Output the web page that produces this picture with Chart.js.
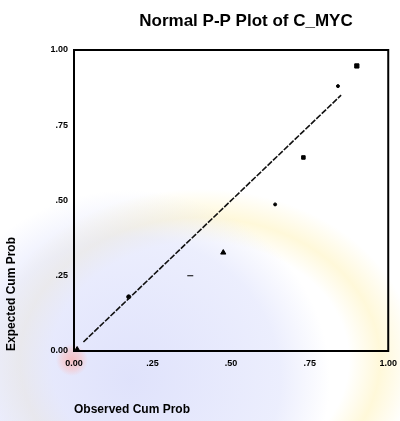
<!DOCTYPE html>
<html><head><meta charset="utf-8">
<script src="https://cdn.jsdelivr.net/npm/chart.js@4"></script>
<style>
html,body{margin:0;padding:0;background:#fff;}
#wrap{width:400px;height:421px;position:relative;
background:
 radial-gradient(circle 16px at 72px 360px, rgba(250,180,180,0.8) 0%, rgba(250,190,190,0.5) 60%, rgba(255,255,255,0) 100%),
 radial-gradient(ellipse 200px 190px at 130px 380px, rgba(210,214,250,0.7) 0%, rgba(220,224,252,0.55) 75%, rgba(255,255,255,0) 100%),
 radial-gradient(ellipse 240px 190px at 200px 360px, rgba(255,255,255,0) 62%, rgba(255,246,205,0.75) 75%, rgba(255,255,255,0) 90%);
}
canvas{position:absolute;left:0;top:0;}
</style></head>
<body><div id="wrap"><canvas id="c" width="400" height="421"></canvas></div>
<script>
const titleText = "Normal P-P Plot of C_MYC";
const xTitle = "Observed Cum Prob";
const yTitle = "Expected Cum Prob";
const tickValues = [0, 0.25, 0.5, 0.75, 1];
const tickLabels = ["0.00", ".25", ".50", ".75", "1.00"];
const observed = [0.01, 0.174, 0.37, 0.475, 0.64, 0.73, 0.84, 0.90];
const expected = [0.005, 0.18, 0.25, 0.327, 0.487, 0.643, 0.88, 0.947];
const refX = [0.03, 0.85];
const refY = [0.03, 0.85];

const pts = observed.map((x, i) => ({x: x, y: expected[i]}));
const refPts = refX.map((x, i) => ({x: x, y: refY[i]}));
const styles = ['triangle','circle','line','triangle','circle','rect','circle','rect'];
const radii = [3, 2, 3, 3, 1.5, 2.5, 1.5, 3];

const frame = {
  id: 'frame',
  afterDatasetsDraw(chart) {
    const a = chart.chartArea, ctx = chart.ctx;
    ctx.save();
    ctx.strokeStyle = '#000';
    ctx.lineWidth = 2;
    ctx.strokeRect(a.left, a.top, a.right - a.left, a.bottom - a.top);
    ctx.restore();
  }
};

const topTitle = {
  id: 'topTitle',
  afterDraw(chart) {
    const ctx = chart.ctx;
    ctx.save();
    ctx.fillStyle = '#000';
    ctx.font = 'bold 17px "Liberation Sans", Arial, sans-serif';
    ctx.textAlign = 'center';
    ctx.textBaseline = 'middle';
    ctx.fillText(titleText, 246, 21);
    ctx.restore();
  }
};

const fmt = v => { const i = tickValues.findIndex(t => Math.abs(t - v) < 1e-9); return i >= 0 ? tickLabels[i] : ''; };
const tickFont = {family: 'Liberation Sans, Arial, sans-serif', size: 9, weight: 'bold'};
const axTitleFont = {family: 'Liberation Sans, Arial, sans-serif', size: 12, weight: 'bold'};

new Chart(document.getElementById('c'), {
  type: 'scatter',
  data: {
    datasets: [
      {
        label: 'ref', type: 'line', data: refPts,
        borderColor: '#111', borderWidth: 1.6, borderDash: [6, 1.5],
        pointRadius: 0, fill: false
      },
      {
        label: 'obs', data: pts,
        backgroundColor: '#000', borderColor: '#000', borderWidth: 1,
        pointStyle: styles, pointRadius: radii
      }
    ]
  },
  options: {
    responsive: false, devicePixelRatio: 1, animation: false,
    layout: {padding: {left: 0, right: 11, top: 50, bottom: 0}},
    plugins: {
      legend: {display: false}, tooltip: {enabled: false},
      title: {display: false}
    },
    scales: {
      x: {
        type: 'linear', min: 0, max: 1,
        afterFit(s) { s.height = 70; },
        grid: {display: false, drawTicks: true, tickLength: 4, tickColor: '#000'},
        border: {display: true, color: '#000', width: 2},
        ticks: {stepSize: 0.25, color: '#000', font: tickFont, padding: 3, maxRotation: 0, callback: fmt},
        title: {display: true, text: xTitle, align: 'start', color: '#000', font: axTitleFont, padding: {top: 27}}
      },
      y: {
        type: 'linear', min: 0, max: 1,
        afterFit(s) { s.width = 74; },
        grid: {display: false, drawTicks: true, tickLength: 4, tickColor: '#000'},
        border: {display: true, color: '#000', width: 2},
        ticks: {stepSize: 0.25, color: '#000', font: tickFont, padding: 2, callback: fmt},
        title: {display: true, text: yTitle, align: 'start', color: '#000', font: axTitleFont, padding: {bottom: 2}}
      }
    }
  },
  plugins: [frame, topTitle]
});
</script>
</body></html>
